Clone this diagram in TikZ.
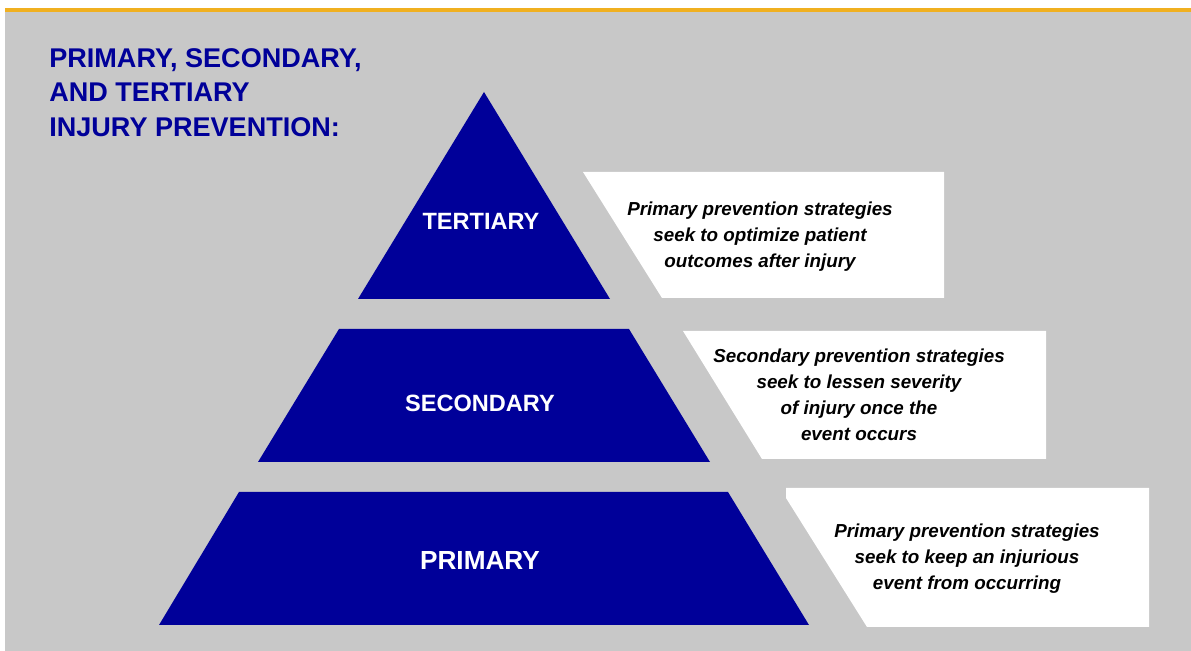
\documentclass[tikz,border=0pt]{standalone}
\usepackage{fontspec}
\setmainfont{Liberation Sans}
\definecolor{pyrblue}{RGB}{0,0,153}
\definecolor{panelgray}{RGB}{200,200,200}
\definecolor{baryellow}{RGB}{240,176,32}
\tikzset{
  pyr/.style={fill=pyrblue},
  descbox/.style={fill=white},
  lvl/.style={text=white, font=\bfseries\fontsize{13.4}{16}\selectfont},
  desc/.style={align=center, inner sep=0pt, font=\bfseries\itshape\fontsize{10.7}{14.8}\selectfont}
}
\begin{document}
\begin{tikzpicture}[x=0.02cm, y=-0.02cm]
  \useasboundingbox (0,0) rectangle (1191,651);
  \fill [panelgray] (5,12) rectangle (1191,651);
  \fill [baryellow] (5,8) rectangle (1191,12);
  \node [anchor=north west, inner sep=0pt, align=left, text=pyrblue, font=\bfseries\fontsize{15.4}{19.6}\selectfont] (title) at (49,48) {PRIMARY, SECONDARY,\\AND TERTIARY\\INJURY PREVENTION:};
  \fill [pyr] (484,92) -- (610,299) -- (358,299) -- cycle;
  \fill [pyr] (339,329) -- (629,329) -- (710,462) -- (258,462) -- cycle;
  \fill [pyr] (239,492) -- (728,492) -- (809,625) -- (159,625) -- cycle;
  \fill [descbox] (583,172) -- (944,172) -- (944,298) -- (662,298) -- cycle;
  \fill [descbox] (683,331) -- (1046,331) -- (1046,459) -- (762,459) -- cycle;
  \fill [descbox] (786,488) -- (1149,488) -- (1149,627) -- (867,627) -- (786,498) -- cycle;
  \node [lvl] (tert) at (481,221) {TERTIARY};
  \node [lvl] (sec) at (480,403) {SECONDARY};
  \node [lvl, font=\bfseries\fontsize{14.9}{18}\selectfont] (prim) at (480,560) {PRIMARY};
  \node [desc] (tertdesc) at (760,237) {Primary prevention strategies\\seek to optimize patient\\outcomes after injury};
  \node [desc] (secdesc) at (859,395) {Secondary prevention strategies\\seek to lessen severity\\of injury once the\\event occurs};
  \node [desc] (primdesc) at (967,559) {Primary prevention strategies\\seek to keep an injurious\\event from occurring};
\end{tikzpicture}
\end{document}
